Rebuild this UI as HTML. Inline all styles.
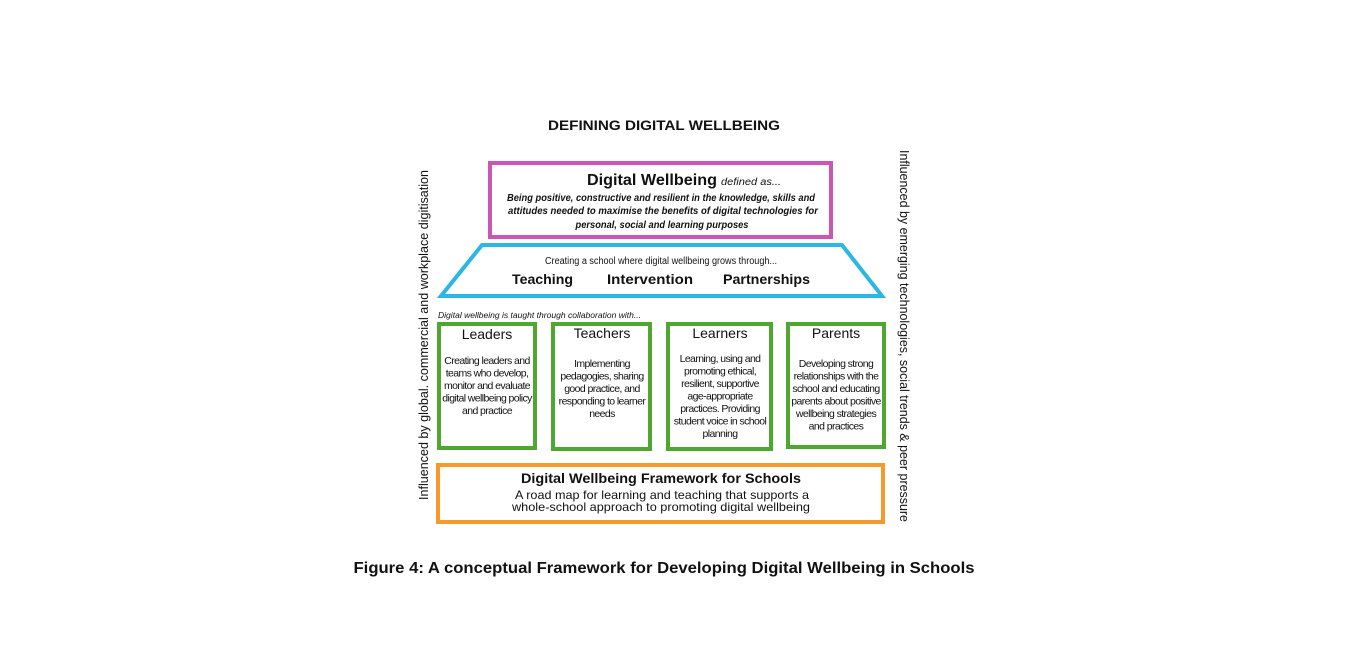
<!DOCTYPE html>
<html><head><meta charset="utf-8"><style>
html,body{margin:0;padding:0;background:#fff;}
svg{display:block;}
text{font-family:"Liberation Sans",sans-serif;fill:#111;}
.c{text-anchor:middle;}
</style></head><body>
<svg width="1360" height="657" viewBox="0 0 1360 657" xmlns="http://www.w3.org/2000/svg">
<text x="664" y="130" class="c" font-size="14" font-weight="bold" textLength="232" lengthAdjust="spacingAndGlyphs">DEFINING DIGITAL WELLBEING</text>

<rect x="490" y="163" width="341" height="74" fill="none" stroke="#cc55b6" stroke-width="4"/>
<text x="587" y="185" font-size="16" font-weight="bold" textLength="130" lengthAdjust="spacingAndGlyphs">Digital Wellbeing</text>
<text x="721" y="185" font-size="10" font-style="italic" textLength="60" lengthAdjust="spacingAndGlyphs">defined as...</text>
<text x="661" y="201" class="c" font-size="10.5" font-weight="bold" font-style="italic" textLength="308" lengthAdjust="spacingAndGlyphs">Being positive, constructive and resilient in the knowledge, skills and</text>
<text x="663" y="214" class="c" font-size="10.5" font-weight="bold" font-style="italic" textLength="310" lengthAdjust="spacingAndGlyphs">attitudes needed to maximise the benefits of digital technologies for</text>
<text x="662" y="228" class="c" font-size="10.5" font-weight="bold" font-style="italic" textLength="173" lengthAdjust="spacingAndGlyphs">personal, social and learning purposes</text>

<polygon points="482,245 842,245 882,296 441,296" fill="none" stroke="#2ab7e6" stroke-width="4"/>
<text x="661" y="264" class="c" font-size="10" textLength="232" lengthAdjust="spacingAndGlyphs">Creating a school where digital wellbeing grows through...</text>
<text x="512" y="284" font-size="14" font-weight="bold" textLength="61" lengthAdjust="spacingAndGlyphs">Teaching</text>
<text x="607" y="284" font-size="14" font-weight="bold" textLength="86" lengthAdjust="spacingAndGlyphs">Intervention</text>
<text x="723" y="284" font-size="14" font-weight="bold" textLength="87" lengthAdjust="spacingAndGlyphs">Partnerships</text>

<text x="438" y="318" font-size="8" font-style="italic" textLength="203" lengthAdjust="spacingAndGlyphs">Digital wellbeing is taught through collaboration with...</text>

<g fill="none" stroke="#4ea72e" stroke-width="4">
<rect x="439" y="324" width="96" height="124"/>
<rect x="553" y="324" width="97" height="125"/>
<rect x="668" y="324" width="103" height="125"/>
<rect x="788" y="324" width="96" height="123"/>
</g>
<g font-size="14">
<text x="487" y="339" class="c">Leaders</text>
<text x="602" y="338" class="c">Teachers</text>
<text x="720" y="338" class="c">Learners</text>
<text x="836" y="338" class="c">Parents</text>
</g>
<g font-size="10.5" letter-spacing="-0.6">
<text x="487" y="364" class="c">Creating leaders and</text>
<text x="487" y="376.5" class="c">teams who develop,</text>
<text x="487" y="389" class="c">monitor and evaluate</text>
<text x="487" y="401.5" class="c">digital wellbeing policy</text>
<text x="487" y="414" class="c">and practice</text>

<text x="602" y="367" class="c">Implementing</text>
<text x="602" y="379.5" class="c">pedagogies, sharing</text>
<text x="602" y="392" class="c">good practice, and</text>
<text x="602" y="404.5" class="c">responding to learner</text>
<text x="602" y="417" class="c">needs</text>

<text x="720" y="362" class="c">Learning, using and</text>
<text x="720" y="374.5" class="c">promoting ethical,</text>
<text x="720" y="387" class="c">resilient, supportive</text>
<text x="720" y="399.5" class="c">age-appropriate</text>
<text x="720" y="412" class="c">practices. Providing</text>
<text x="720" y="424.5" class="c">student voice in school</text>
<text x="720" y="437" class="c">planning</text>

<text x="836" y="367" class="c">Developing strong</text>
<text x="836" y="379.5" class="c">relationships with the</text>
<text x="836" y="392" class="c">school and educating</text>
<text x="836" y="404.5" class="c">parents about positive</text>
<text x="836" y="417" class="c">wellbeing strategies</text>
<text x="836" y="429.5" class="c">and practices</text>
</g>

<rect x="438" y="465" width="445" height="57" fill="none" stroke="#f79a2a" stroke-width="4"/>
<text x="661" y="483" class="c" font-size="14" font-weight="bold" textLength="280" lengthAdjust="spacingAndGlyphs">Digital Wellbeing Framework for Schools</text>
<text x="662" y="499" class="c" font-size="12" textLength="294" lengthAdjust="spacingAndGlyphs">A road map for learning and teaching that supports a</text>
<text x="661" y="511" class="c" font-size="12" textLength="298" lengthAdjust="spacingAndGlyphs">whole-school approach to promoting digital wellbeing</text>

<text transform="translate(428,335) rotate(-90)" class="c" font-size="12.5" textLength="330" lengthAdjust="spacingAndGlyphs">Influenced by global. commercial and workplace digitisation</text>
<text transform="translate(900,336) rotate(90)" class="c" font-size="12.5" textLength="372" lengthAdjust="spacingAndGlyphs">Influenced by emerging technologies, social trends &amp; peer pressure</text>

<text x="664" y="573" class="c" font-size="16" font-weight="bold" textLength="621" lengthAdjust="spacingAndGlyphs">Figure 4: A conceptual Framework for Developing Digital Wellbeing in Schools</text>
</svg>
</body></html>
